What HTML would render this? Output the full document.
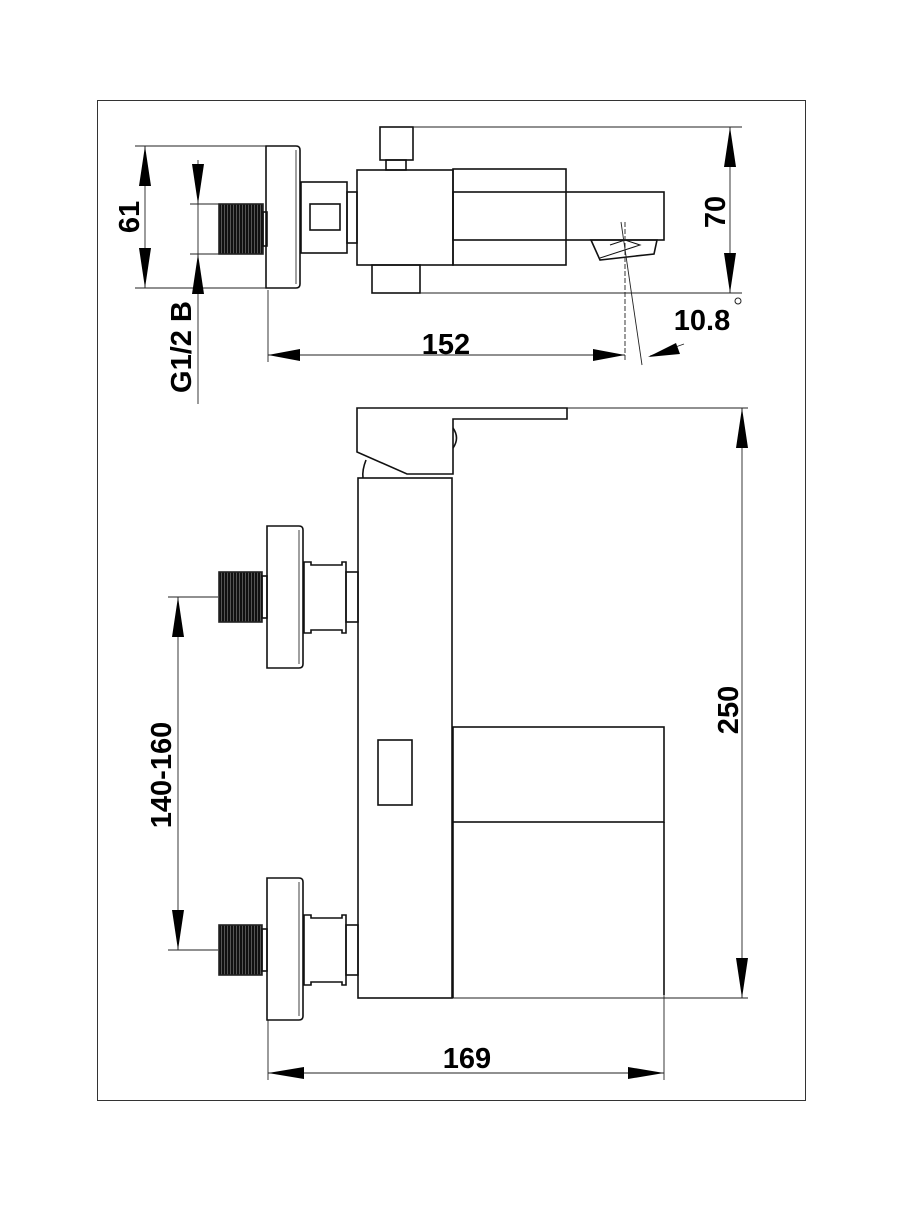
<!DOCTYPE html>
<html><head><style>html,body{margin:0;padding:0;background:#fff}</style></head><body>
<svg width="900" height="1200" viewBox="0 0 900 1200" xmlns="http://www.w3.org/2000/svg" font-family="Liberation Sans, sans-serif" font-weight="bold">
<defs>
<pattern id="thr" width="3" height="10" patternUnits="userSpaceOnUse"><rect width="3" height="10" fill="#555"/><rect width="2" height="10" fill="#111"/></pattern>
</defs>
<rect x="97.5" y="100.5" width="708" height="1000" fill="none" stroke="#333" stroke-width="1"/>
<g fill="none" stroke="#111" stroke-width="1.6">
<path d="M266 146 H296 Q300 146 300 150 V284 Q300 288 296 288 H266 Z"/>
<line x1="296" y1="150" x2="296" y2="284" stroke-width="0.8"/>
<rect x="219" y="204" width="44" height="50" fill="url(#thr)" stroke="#222"/>
<rect x="263" y="212" width="4" height="34"/>
<rect x="301" y="182" width="46" height="71"/>
<rect x="310" y="204" width="30" height="26"/>
<rect x="347" y="192" width="10" height="51"/>
<rect x="357" y="170" width="96" height="95"/>
<rect x="380" y="127" width="33" height="33"/>
<rect x="386" y="160" width="20" height="10"/>
<rect x="372" y="265" width="48" height="28"/>
<rect x="453" y="169" width="113" height="96"/>
<rect x="453" y="192" width="211" height="48"/>
<path d="M591 240 L657 240 L654 254 L600 260 Z"/>
<path d="M610 245 L625 240 L640 245 L600 258" stroke-width="1"/>
</g>
<g stroke="#222" stroke-width="0.9" fill="none">
<line x1="413" y1="127" x2="742" y2="127"/>
<line x1="420" y1="293" x2="742" y2="293"/>
<line x1="730" y1="127" x2="730" y2="293"/>
<line x1="135" y1="146" x2="266" y2="146"/>
<line x1="135" y1="288" x2="266" y2="288"/>
<line x1="145" y1="146" x2="145" y2="288"/>
<line x1="190" y1="204" x2="219" y2="204"/>
<line x1="190" y1="254" x2="219" y2="254"/>
<line x1="198" y1="160" x2="198" y2="404"/>
<line x1="268" y1="290" x2="268" y2="362"/>
<line x1="268" y1="355" x2="625" y2="355"/>
<line x1="625" y1="222" x2="625" y2="362" stroke-dasharray="5,2"/>
<line x1="621" y1="222" x2="642" y2="365"/>
<line x1="650" y1="356" x2="684" y2="344"/>
<line x1="567" y1="408" x2="748" y2="408"/>
<line x1="452" y1="998" x2="748" y2="998"/>
<line x1="742" y1="408" x2="742" y2="998"/>
<line x1="168" y1="597" x2="218" y2="597"/>
<line x1="168" y1="950" x2="218" y2="950"/>
<line x1="178" y1="597" x2="178" y2="950"/>
<line x1="268" y1="1020" x2="268" y2="1080"/>
<line x1="664" y1="995" x2="664" y2="1080"/>
<line x1="268" y1="1073" x2="664" y2="1073"/>
</g>
<g fill="#000">
<path d="M730 127 l-6 40 h12 Z"/><path d="M730 293 l-6 -40 h12 Z"/>
<path d="M145 146 l-6 40 h12 Z"/><path d="M145 288 l-6 -40 h12 Z"/>
<path d="M198 204 l-6 -40 h12 Z"/><path d="M198 254 l-6 40 h12 Z"/>
<path d="M268 355 l32 -6 v12 Z"/><path d="M625 355 l-32 -6 v12 Z"/>
<path d="M648 357 l28 -14 l4 11 Z"/>
<path d="M742 408 l-6 40 h12 Z"/><path d="M742 998 l-6 -40 h12 Z"/>
<path d="M178 597 l-6 40 h12 Z"/><path d="M178 950 l-6 -40 h12 Z"/>
<path d="M268 1073 l36 -6 v12 Z"/><path d="M664 1073 l-36 -6 v12 Z"/>
</g>
<g fill="none" stroke="#111" stroke-width="1.6">
<path d="M357 408 H567 V419 H453 V474 H407 L357 452 Z"/>
<path d="M453 428 Q460 438 453 448"/>
<path d="M366 460 Q362 470 363 478"/>
<rect x="358" y="478" width="94" height="520"/>
<path d="M267 526 H299 Q303 526 303 530 V664 Q303 668 299 668 H267 Z"/>
<line x1="299" y1="530" x2="299" y2="664" stroke-width="0.8"/>
<rect x="219" y="572" width="43" height="50" fill="url(#thr)" stroke="#222"/>
<rect x="262" y="576" width="5" height="42"/>
<path d="M304 562 H311 V565 H342 V562 H346 V633 H342 V630 H311 V633 H304 Z"/>
<rect x="346" y="572" width="12" height="50"/>
<path d="M267 878 H299 Q303 878 303 882 V1016 Q303 1020 299 1020 H267 Z"/>
<line x1="299" y1="882" x2="299" y2="1016" stroke-width="0.8"/>
<rect x="219" y="925" width="43" height="50" fill="url(#thr)" stroke="#222"/>
<rect x="262" y="929" width="5" height="42"/>
<path d="M304 915 H311 V918 H342 V915 H346 V985 H342 V982 H311 V985 H304 Z"/>
<rect x="346" y="925" width="12" height="50"/>
<rect x="378" y="740" width="34" height="65"/>
<rect x="453" y="727" width="211" height="95"/>
<line x1="453" y1="822" x2="453" y2="998"/>
<line x1="664" y1="822" x2="664" y2="995"/>
</g>
<g font-size="29" fill="#000">
<text transform="translate(139 217) rotate(-90)" text-anchor="middle">61</text>
<text transform="translate(725 212) rotate(-90)" text-anchor="middle">70</text>
<text transform="translate(191 347) rotate(-90)" text-anchor="middle">G1/2 B</text>
<text x="446" y="354" text-anchor="middle">152</text>
<text x="702" y="330" text-anchor="middle">10.8</text>
<text transform="translate(738 710) rotate(-90)" text-anchor="middle">250</text>
<text transform="translate(171 775) rotate(-90)" text-anchor="middle">140-160</text>
<text x="467" y="1068" text-anchor="middle">169</text>
</g>
<circle cx="738" cy="301" r="3" fill="none" stroke="#222" stroke-width="1"/>
</svg>
</body></html>
